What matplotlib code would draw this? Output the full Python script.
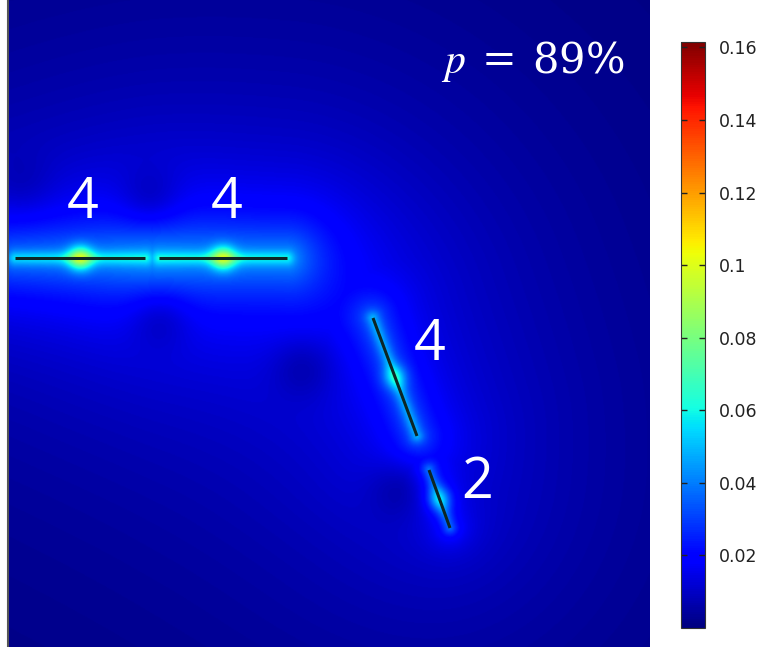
import numpy as np
import matplotlib
matplotlib.use("Agg")
import matplotlib.pyplot as plt
from matplotlib.colors import Normalize

plt.rcParams["mathtext.fontset"] = "custom"
plt.rcParams["mathtext.rm"] = "DejaVu Serif"
plt.rcParams["mathtext.it"] = "STIXGeneral:italic"

# Crack segments in domain units (x to the right, y upward)
crack_x0 = [0.07, 1.51, 3.65, 4.21]
crack_y0 = [3.89, 3.89, 3.29, 1.77]
crack_x1 = [1.37, 2.79, 4.09, 4.42]
crack_y1 = [3.89, 3.89, 2.11, 1.19]

# Crack labels and where they are written
crack_labels = ["4", "4", "4", "2"]
label_x = [0.75, 2.19, 4.22, 4.69]
label_y = [4.43, 4.43, 3.01, 1.64]

# Field levels around each crack
peak_value = [0.102, 0.102, 0.068, 0.060]
edge_value = [0.012, 0.012, 0.010, 0.008]
halo_value = [0.030, 0.030, 0.022, 0.018]
halo_reach = [0.32, 0.32, 0.20, 0.13]
far_value = [0.010, 0.010, 0.009, 0.006]

# Low-field pockets beside the cracks
shadow_x = [1.42, 1.52, 2.95, 3.92, 0.15]
shadow_y = [4.47, 3.30, 2.80, 1.60, 4.60]
shadow_depth = [0.008, 0.008, 0.007, 0.007, 0.004]
background = 0.0

cbar_ticks = [0.02, 0.04, 0.06, 0.08, 0.10, 0.12, 0.14, 0.16]
cbar_ticklabels = ["0.02", "0.04", "0.06", "0.08", "0.1", "0.12", "0.14", "0.16"]
vmin, vmax = 0.0, 0.1615
porosity_label = r"$p\ =\ 89\%$"

W, H = 6.42, 6.47


def seg_dist(X, Y, x0, y0, x1, y1):
    dx, dy = x1 - x0, y1 - y0
    t = ((X - x0) * dx + (Y - y0) * dy) / (dx * dx + dy * dy)
    t = np.clip(t, 0, 1)
    return np.hypot(X - (x0 + t * dx), Y - (y0 + t * dy))


x = np.linspace(0, W, 700)
y = np.linspace(0, H, 700)
X, Y = np.meshgrid(x, y)

near = np.zeros_like(X)
far = np.full_like(X, background)
for k in range(len(crack_x0)):
    d = seg_dist(X, Y, crack_x0[k], crack_y0[k], crack_x1[k], crack_y1[k])
    glow = edge_value[k] * np.exp(-(d / 0.07) ** 2) + halo_value[k] * np.exp(-d / halo_reach[k])
    near = np.maximum(near, glow)
    far += far_value[k] * np.exp(-d / 1.4)
field = near + far

for sx, sy, sd in zip(shadow_x, shadow_y, shadow_depth):
    field -= sd * np.exp(-((X - sx) ** 2 + (Y - sy) ** 2) / (2 * 0.22 ** 2))
field = np.clip(field, 0.0, None)

# bright spot at each crack centre, lifting the local level up to the peak value
for k in range(len(crack_x0)):
    cx = 0.5 * (crack_x0[k] + crack_x1[k])
    cy = 0.5 * (crack_y0[k] + crack_y1[k])
    r = np.hypot(X - cx, Y - cy)
    base = field[np.argmin(np.abs(y - cy)), np.argmin(np.abs(x - cx))]
    field += (peak_value[k] - base) * np.exp(-(r / 0.12) ** 2)

fig = plt.figure(figsize=(7.65, 6.47), dpi=100)
ax = fig.add_axes([8 / 765, 0.0, 642 / 765, 1.0])
norm = Normalize(vmin=vmin, vmax=vmax)
im = ax.imshow(field, cmap="jet", norm=norm, origin="lower",
               extent=[0, W, 0, H], aspect="auto", interpolation="bilinear")

for k in range(len(crack_x0)):
    ax.plot([crack_x0[k], crack_x1[k]], [crack_y0[k], crack_y1[k]],
            color="#0d2626", lw=2.2, solid_capstyle="butt")
    ax.text(label_x[k], label_y[k], crack_labels[k], color="white",
            fontsize=40, family="Open Sans", ha="center", va="center")

ax.text(4.33, 5.86, porosity_label, color="white", fontsize=30,
        ha="left", va="center", math_fontfamily="custom")

ax.set_xlim(0, W)
ax.set_ylim(0, H)
ax.set_xticks([])
ax.set_yticks([])
for side in ["top", "right", "bottom"]:
    ax.spines[side].set_visible(False)
ax.spines["left"].set_color("#555555")
ax.spines["left"].set_linewidth(1.5)

cax = fig.add_axes([681 / 765, 19 / 647, 24 / 765, 586 / 647])
cb = fig.colorbar(im, cax=cax, ticks=cbar_ticks)
cb.ax.set_yticklabels(cbar_ticklabels)
cb.outline.set_linewidth(0.8)
cb.outline.set_edgecolor("#333333")
cax.tick_params(axis="y", direction="in", length=4, width=1, color="#222222",
                left=True, right=True, labelsize=12.5, labelcolor="#222222", pad=10)

fig.savefig("out.png", dpi=100)
